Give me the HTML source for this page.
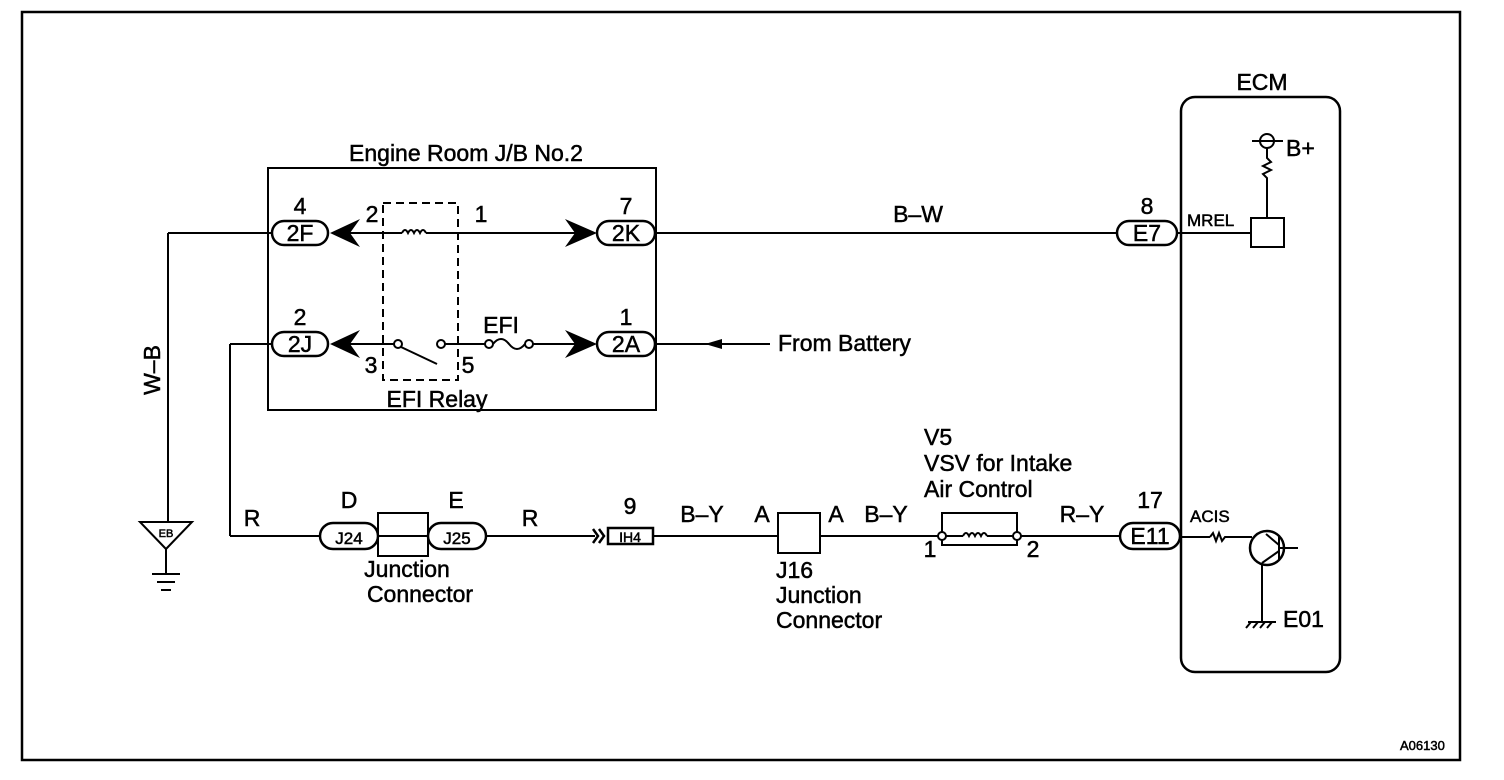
<!DOCTYPE html>
<html><head><style>
body{margin:0;background:#fff}
svg{display:block}
text{font-family:"Liberation Sans",Arial,sans-serif;fill:#000;stroke:#000;stroke-width:0.5}
</style></head><body>
<svg width="1504" height="780" viewBox="0 0 1504 780" xmlns="http://www.w3.org/2000/svg">
<rect x="22" y="12" width="1438" height="748" fill="none" stroke="#000" stroke-width="2.5"/>
<g font-size="23">
<rect x="268" y="168" width="388" height="242" fill="none" stroke="#000" stroke-width="2"/>
<text x="466" y="161" text-anchor="middle">Engine Room J/B No.2</text>
<rect x="383" y="203" width="75" height="177" fill="none" stroke="#000" stroke-width="2" stroke-dasharray="8,5"/>
<text x="437" y="407" text-anchor="middle">EFI Relay</text>
<g stroke="#000" stroke-width="2" fill="none">
<line x1="168" y1="233" x2="272" y2="233"/>
<rect x="272" y="221" width="56" height="24" rx="12" stroke-width="2.5"/>
<line x1="345" y1="233" x2="402" y2="233"/>
<path d="M402 233 q3 -6 6 0 q3 -6 6 0 q3 -6 6 0 q3 -6 6 0"/>
<line x1="426" y1="233" x2="580" y2="233"/>
<rect x="597" y="221" width="58" height="24" rx="12" stroke-width="2.5"/>
<line x1="655" y1="233" x2="1117" y2="233"/>
<rect x="1117" y="221" width="60" height="24" rx="12" stroke-width="2.5"/>
<line x1="1177" y1="233" x2="1251" y2="233"/>
<line x1="230" y1="344" x2="272" y2="344"/>
<rect x="272" y="332" width="56" height="24" rx="12" stroke-width="2.5"/>
<line x1="345" y1="344" x2="394" y2="344"/>
<circle cx="398" cy="344" r="4"/>
<line x1="401" y1="347" x2="437" y2="364"/>
<circle cx="441" cy="344" r="4"/>
<line x1="445" y1="344" x2="485" y2="344"/>
<circle cx="489" cy="344" r="4"/>
<path d="M493 344 q8 -10 16 0 q8 10 16 0"/>
<circle cx="529" cy="344" r="4"/>
<line x1="533" y1="344" x2="580" y2="344"/>
<rect x="597" y="332" width="58" height="24" rx="12" stroke-width="2.5"/>
<line x1="655" y1="344" x2="770" y2="344"/>
<line x1="168" y1="233" x2="168" y2="522"/>
<path d="M140 522 L192 522 L166 549 Z"/>
<line x1="166" y1="549" x2="166" y2="573"/>
<line x1="152" y1="574" x2="180" y2="574"/>
<line x1="157" y1="582" x2="175" y2="582"/>
<line x1="161" y1="590" x2="171" y2="590"/>
<line x1="230" y1="344" x2="230" y2="536"/>
<line x1="230" y1="536" x2="320" y2="536"/>
<rect x="320" y="523" width="58" height="26" rx="13" stroke-width="2.5"/>
<rect x="378" y="513" width="50" height="43"/>
<line x1="378" y1="536" x2="428" y2="536"/>
<rect x="428" y="523" width="58" height="26" rx="13" stroke-width="2.5"/>
<line x1="486" y1="536" x2="595" y2="536"/>
<path d="M593 529 l5 7 l-5 7 M599 529 l5 7 l-5 7" stroke-width="2.5"/>
<rect x="608" y="528" width="45" height="16" stroke-width="2.5"/>
<line x1="653" y1="536" x2="778" y2="536"/>
<rect x="778" y="513" width="42" height="40"/>
<line x1="820" y1="536" x2="938" y2="536"/>
<path d="M942 532 V513 H1017 V532 M942 540 V545 H1017 V540"/>
<circle cx="942" cy="536" r="4"/>
<circle cx="1017" cy="536" r="4"/>
<line x1="946" y1="536" x2="963" y2="536"/>
<path d="M963 536 q3 -6 6 0 q3 -6 6 0 q3 -6 6 0 q3 -6 6 0"/>
<line x1="987" y1="536" x2="1013" y2="536"/>
<line x1="1021" y1="536" x2="1120" y2="536"/>
<rect x="1120" y="523" width="60" height="26" rx="13" stroke-width="2.5"/>
<rect x="1181" y="97" width="159" height="575" rx="14" stroke-width="2.5"/>
<line x1="1252" y1="141" x2="1283" y2="141"/>
<circle cx="1267" cy="141" r="7"/>
<path d="M1267 148 V158 l4 4 l-8 4 l8 4 l-8 4 l4 4 V218"/>
<rect x="1251" y="218" width="33" height="29"/>
<line x1="1180" y1="537" x2="1210" y2="537"/>
<path d="M1210 537 l3 -4 l3 8 l3 -8 l3 8 l3 -4 H1252"/>
<circle cx="1267" cy="548" r="17" stroke-width="2.5"/>
<line x1="1279" y1="536" x2="1279" y2="560"/>
<line x1="1279" y1="545" x2="1266" y2="534"/>
<line x1="1279" y1="551" x2="1262" y2="563"/>
<line x1="1279" y1="548" x2="1298" y2="548"/>
<line x1="1262" y1="563" x2="1262" y2="622"/>
<line x1="1248" y1="622" x2="1276" y2="622"/>
<path d="M1246 628 l5 -6 M1253 628 l5 -6 M1260 628 l5 -6 M1267 628 l5 -6"/>
</g>
<g fill="#000">
<path d="M330 233 L360 219 L350 233 L360 247 Z"/>
<path d="M330 344 L360 330 L350 344 L360 358 Z"/>
<path d="M597 233 L565 219 L575 233 L565 247 Z"/>
<path d="M597 344 L565 330 L575 344 L565 358 Z"/>
<path d="M705 344 L722 339 L722 349 Z"/>
</g>
<text x="300" y="241" text-anchor="middle">2F</text>
<text x="300" y="214" text-anchor="middle">4</text>
<text x="372" y="222" text-anchor="middle">2</text>
<text x="481" y="222" text-anchor="middle">1</text>
<text x="626" y="241" text-anchor="middle">2K</text>
<text x="626" y="214" text-anchor="middle">7</text>
<text x="300" y="352" text-anchor="middle">2J</text>
<text x="300" y="325" text-anchor="middle">2</text>
<text x="371" y="373" text-anchor="middle">3</text>
<text x="468" y="373" text-anchor="middle">5</text>
<text x="501" y="333" text-anchor="middle">EFI</text>
<text x="626" y="352" text-anchor="middle">2A</text>
<text x="626" y="325" text-anchor="middle">1</text>
<text x="778" y="351">From Battery</text>
<text x="918" y="222" text-anchor="middle">B–W</text>
<text x="1147" y="241" text-anchor="middle">E7</text>
<text x="1147" y="214" text-anchor="middle">8</text>
<text x="1262" y="90" text-anchor="middle">ECM</text>
<text x="1286" y="156">B+</text>
<text x="1187" y="226" font-size="17">MREL</text>
<text x="1190" y="522" font-size="17">ACIS</text>
<text x="1283" y="627">E01</text>
<text transform="translate(160,370) rotate(-90)" text-anchor="middle">W–B</text>
<text x="166" y="537" font-size="11" text-anchor="middle" stroke-width="0.2">EB</text>
<text x="252" y="526" text-anchor="middle">R</text>
<text x="530" y="526" text-anchor="middle">R</text>
<text x="349" y="508" text-anchor="middle">D</text>
<text x="456" y="508" text-anchor="middle">E</text>
<text x="349" y="544" text-anchor="middle" font-size="17">J24</text>
<text x="457" y="544" text-anchor="middle" font-size="17">J25</text>
<text x="407" y="577" text-anchor="middle">Junction</text>
<text x="420" y="602" text-anchor="middle">Connector</text>
<text x="630" y="514" text-anchor="middle">9</text>
<text x="630" y="542" text-anchor="middle" font-size="14" stroke-width="0.3">IH4</text>
<text x="702" y="522" text-anchor="middle">B–Y</text>
<text x="762" y="522" text-anchor="middle">A</text>
<text x="836" y="522" text-anchor="middle">A</text>
<text x="886" y="522" text-anchor="middle">B–Y</text>
<text x="776" y="578">J16</text>
<text x="776" y="603">Junction</text>
<text x="776" y="628">Connector</text>
<text x="924" y="445">V5</text>
<text x="924" y="471">VSV  for  Intake</text>
<text x="924" y="497">Air Control</text>
<text x="930" y="557" text-anchor="middle">1</text>
<text x="1033" y="557" text-anchor="middle">2</text>
<text x="1082" y="522" text-anchor="middle">R–Y</text>
<text x="1150" y="508" text-anchor="middle">17</text>
<text x="1150" y="544" text-anchor="middle">E11</text>
<text x="1400" y="750" font-size="13" stroke-width="0.2">A06130</text>
</g>
</svg>
</body></html>
